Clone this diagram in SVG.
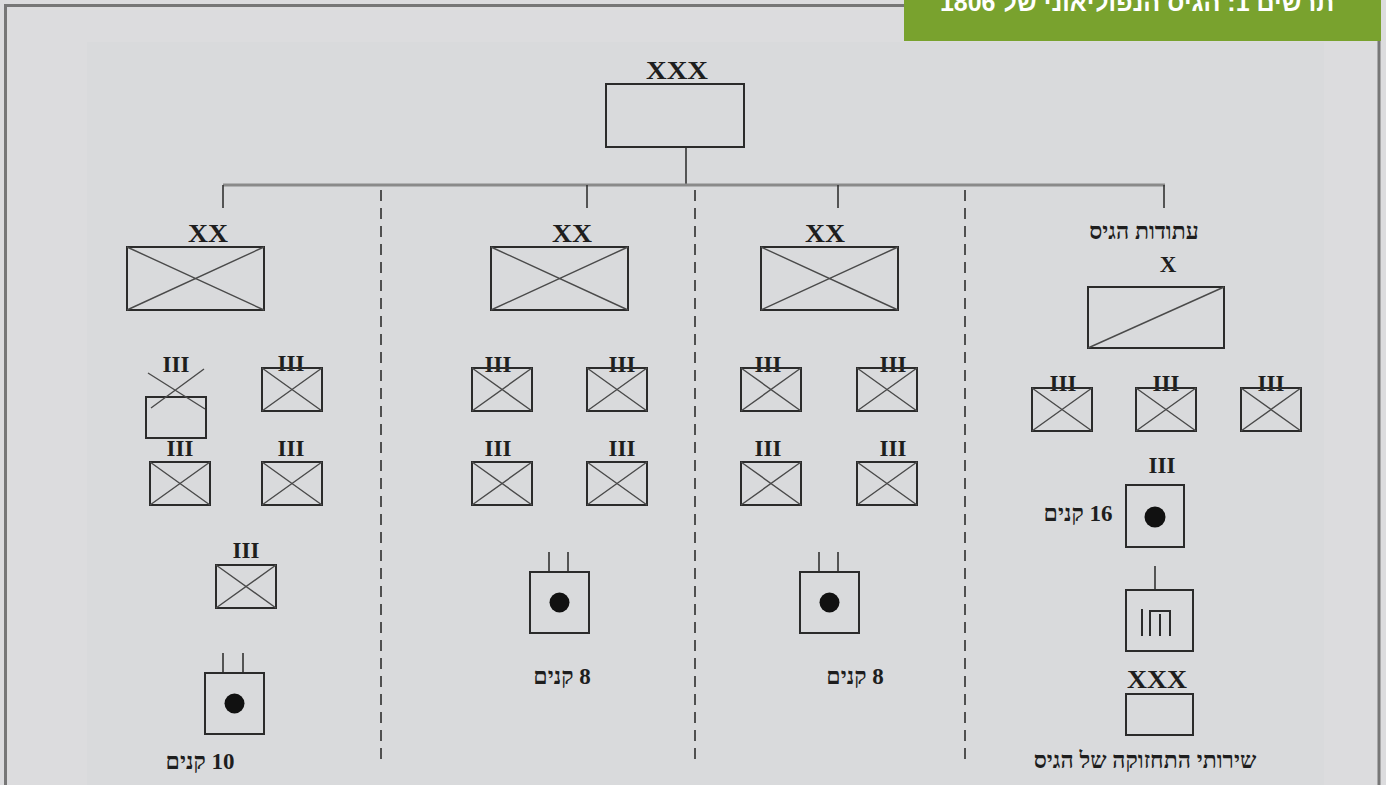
<svg xmlns="http://www.w3.org/2000/svg" width="1386" height="785" viewBox="0 0 1386 785">
<style>
.sym{fill:none;stroke:#2b2b2b;stroke-width:2}
.xl{stroke:#4a4a4a;stroke-width:1.4;fill:none}
.lbl{font-family:"Liberation Serif","Times New Roman",serif;fill:#1e1e1e;text-anchor:middle}
.ech{font-size:26px}
.reg{font-size:23px;font-weight:bold}
.he{font-family:"Liberation Serif","DejaVu Sans",serif;font-weight:bold;fill:#1e1e1e;direction:rtl;text-anchor:middle;font-size:23px}
.conn{stroke:#333;stroke-width:1.6;fill:none}
.bar{stroke:#8a8a8a;stroke-width:3;fill:none}
.dash{stroke:#2e2e2e;stroke-width:1.6;stroke-dasharray:11 7;fill:none}
.dot{fill:#111}
</style>
<defs>
<g id="inf"><rect class="sym" x="0" y="0" width="60" height="43"/><path class="xl" d="M0 0L60 43M60 0L0 43"/></g>
<g id="div"><rect class="sym" x="0" y="0" width="137" height="63"/><path class="xl" d="M0 0L137 63M137 0L0 63"/></g>
<g id="art"><rect class="sym" x="0" y="0" width="59" height="61"/><circle class="dot" cx="29.5" cy="30.5" r="10"/></g>
</defs>
<rect x="0" y="0" width="1386" height="785" fill="#dcdcde"/>
<rect x="87" y="42" width="1237" height="743" fill="#d9dadc"/>
<path d="M5.5 785V5.5H1379V785" fill="none" stroke="#777" stroke-width="3"/>
<g id="title">
<rect x="904" y="0" width="477" height="41" fill="#79a22e"/>
<text x="1137" y="11" font-family="Liberation Sans,DejaVu Sans,sans-serif" font-weight="bold" font-size="25" fill="#fff" text-anchor="middle" direction="rtl">תרשים 1: הגיס הנפוליאוני של 1806</text>
</g>
<g id="connectors">
<path class="conn" d="M686 147V185"/>
<path class="bar" d="M223 185H1165"/>
<path class="conn" d="M223 185V208M587 185V208M838 185V208M1164 185V208"/>
<path class="dash" d="M381 190V760M695 190V760M965 190V760"/>
<path class="conn" d="M1155 566V590"/>
</g>
<g id="corps-hq">
<text class="lbl ech" x="677" y="79" textLength="62" lengthAdjust="spacingAndGlyphs" font-weight="bold">XXX</text>
<rect class="sym" x="606" y="84" width="138" height="63"/>
</g>
<g id="division-1">
<text class="lbl ech" x="208" y="242" font-weight="bold" textLength="40" lengthAdjust="spacingAndGlyphs">XX</text>
<use href="#div" x="127" y="247"/>
</g>
<g id="regiment-1a">
<text class="lbl reg" x="176" y="372">III</text>
<rect class="sym" x="146" y="397" width="60" height="41"/>
<path class="xl" d="M148 373L205 409M204 369L151 408"/>
</g>
<g id="regiment-1b">
<text class="lbl reg" x="291" y="371">III</text>
<use href="#inf" x="262" y="368"/>
</g>
<g id="regiment-1c">
<text class="lbl reg" x="180" y="456">III</text>
<use href="#inf" x="150" y="462"/>
</g>
<g id="regiment-1d">
<text class="lbl reg" x="291" y="456">III</text>
<use href="#inf" x="262" y="462"/>
</g>
<g id="regiment-1e">
<text class="lbl reg" x="246" y="558">III</text>
<use href="#inf" x="216" y="565"/>
</g>
<g id="artillery-1">
<path class="conn" d="M223 653V673M243 653V673"/>
<use href="#art" x="205" y="673"/>
<text class="he" x="200" y="769">10 קנים</text>
</g>
<g id="division-2">
<text class="lbl ech" x="572" y="242" font-weight="bold" textLength="40" lengthAdjust="spacingAndGlyphs">XX</text>
<use href="#div" x="491" y="247"/>
</g>
<g id="regiment-2a">
<text class="lbl reg" x="498" y="372">III</text>
<use href="#inf" x="472" y="368"/>
</g>
<g id="regiment-2b">
<text class="lbl reg" x="622" y="372">III</text>
<use href="#inf" x="587" y="368"/>
</g>
<g id="regiment-2c">
<text class="lbl reg" x="498" y="456">III</text>
<use href="#inf" x="472" y="462"/>
</g>
<g id="regiment-2d">
<text class="lbl reg" x="622" y="456">III</text>
<use href="#inf" x="587" y="462"/>
</g>
<g id="artillery-2">
<path class="conn" d="M549 552V572M568 552V572"/>
<use href="#art" x="530" y="572"/>
<text class="he" x="562" y="684">8 קנים</text>
</g>
<g id="division-3">
<text class="lbl ech" x="825" y="242" font-weight="bold" textLength="40" lengthAdjust="spacingAndGlyphs">XX</text>
<use href="#div" x="761" y="247"/>
</g>
<g id="regiment-3a">
<text class="lbl reg" x="768" y="372">III</text>
<use href="#inf" x="741" y="368"/>
</g>
<g id="regiment-3b">
<text class="lbl reg" x="893" y="372">III</text>
<use href="#inf" x="857" y="368"/>
</g>
<g id="regiment-3c">
<text class="lbl reg" x="768" y="456">III</text>
<use href="#inf" x="741" y="462"/>
</g>
<g id="regiment-3d">
<text class="lbl reg" x="893" y="456">III</text>
<use href="#inf" x="857" y="462"/>
</g>
<g id="artillery-3">
<path class="conn" d="M819 552V572M838 552V572"/>
<use href="#art" x="800" y="572"/>
<text class="he" x="855" y="684">8 קנים</text>
</g>
<g id="corps-reserve">
<text class="he" x="1144" y="239">עתודות הגיס</text>
<text class="lbl reg" x="1168" y="272">X</text>
<rect class="sym" x="1088" y="287" width="136" height="61"/>
<path class="xl" d="M1088 348L1224 287"/>
</g>
<g id="regiment-4a">
<text class="lbl reg" x="1063" y="391">III</text>
<use href="#inf" x="1032" y="388"/>
</g>
<g id="regiment-4b">
<text class="lbl reg" x="1166" y="391">III</text>
<use href="#inf" x="1136" y="388"/>
</g>
<g id="regiment-4c">
<text class="lbl reg" x="1271" y="391">III</text>
<use href="#inf" x="1241" y="388"/>
</g>
<g id="artillery-reserve">
<text class="lbl reg" x="1162" y="473">III</text>
<rect class="sym" x="1126" y="485" width="58" height="62"/>
<circle class="dot" cx="1155" cy="517" r="10.5"/>
<text class="he" x="1078" y="521">16 קנים</text>
</g>
<g id="supply-unit">
<rect class="sym" x="1126" y="590" width="67" height="61"/>
<path class="sym" d="M1142 609V636M1150 636V611H1170V636M1160 614V636"/>
</g>
<g id="corps-services">
<text class="lbl ech" x="1157" y="688" textLength="60" lengthAdjust="spacingAndGlyphs" font-weight="bold">XXX</text>
<rect class="sym" x="1126" y="694" width="67" height="41"/>
<text class="he" x="1145" y="768">שירותי התחזוקה של הגיס</text>
</g>
</svg>
